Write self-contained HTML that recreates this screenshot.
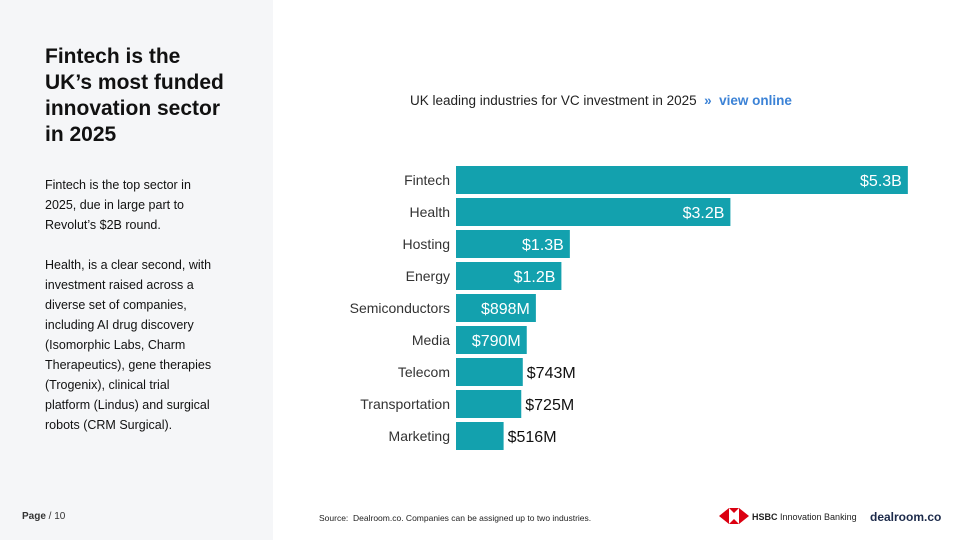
<!DOCTYPE html>
<html><head><meta charset="utf-8"><style>
body{margin:0;width:960px;height:540px;position:relative;background:#fff;font-family:"Liberation Sans",sans-serif;overflow:hidden;color:#1a1a1a}
#side{position:absolute;left:0;top:0;width:273px;height:540px;background:#f5f6f8}
h1{position:absolute;left:45px;top:44px;margin:0;font-size:21px;line-height:26px;font-weight:bold;color:#111;width:195px}
#body{position:absolute;left:45px;top:175px;font-size:12.5px;line-height:20px;width:172px;color:#111}
#body p{margin:0 0 20px 0}
#page{position:absolute;left:22px;top:511px;font-size:10px;color:#333}
#src{position:absolute;left:319px;top:513px;font-size:8.5px;color:#222}
#ctitle{position:absolute;left:410px;top:93px;font-size:13.5px;color:#222}
#ctitle span{color:#3b82d6;font-weight:bold}
</style></head><body>
<div id="side"></div>
<h1>Fintech is the<br>UK’s most funded innovation sector in 2025</h1>
<div id="body"><p>Fintech is the top sector in 2025, due in large part to Revolut’s $2B round.</p><p>Health, is a clear second, with investment raised across a diverse set of companies, including AI drug discovery (Isomorphic Labs, Charm Therapeutics), gene therapies (Trogenix), clinical trial platform (Lindus) and surgical robots (CRM Surgical).</p></div>
<div id="page"><b>Page</b> / 10</div>
<div id="src">Source:&nbsp; Dealroom.co. Companies can be assigned up to two industries.</div>
<div id="ctitle">UK leading industries for VC investment in 2025 &nbsp;<span>» &nbsp;view online</span></div>
<svg width="960" height="540" style="position:absolute;left:0;top:0">
<g id="bars"></g>
<g>
<polygon points="719,516 729,508 729,524" fill="#db0011"/><polygon points="749,516 739,508 739,524" fill="#db0011"/>
<polygon points="729,508 739,508 734,513" fill="#db0011"/><polygon points="729,524 739,524 734,519" fill="#db0011"/>
<text x="752" y="520" font-size="9" font-family="Liberation Sans" fill="#222"><tspan font-weight="bold">HSBC</tspan> Innovation Banking</text></g>
<text x="870" y="521" font-size="12" font-weight="bold" fill="#1c2a4a" font-family="Liberation Sans">dealroom.co</text>
</svg>
<script>
const categories=["Fintech","Health","Hosting","Energy","Semiconductors","Media","Telecom","Transportation","Marketing"];
const values=[5.3,3.2,1.3,1.2,0.898,0.79,0.743,0.725,0.516];
const valueLabels=["$5.3B","$3.2B","$1.3B","$1.2B","$898M","$790M","$743M","$725M","$516M"];
const x0=456;
function xs(v){return 4+v*84.5;}
function ys(i){return 166+i*32;}
const g=document.getElementById('bars');const NS='http://www.w3.org/2000/svg';
categories.forEach((c,i)=>{
 const w=xs(values[i]),y=ys(i);
 const r=document.createElementNS(NS,'rect');
 r.setAttribute('x',x0);r.setAttribute('y',y);r.setAttribute('width',w);r.setAttribute('height',28);r.setAttribute('fill','#13a1ae');
 
 
 g.appendChild(r);
 const t=document.createElementNS(NS,'text');
 t.setAttribute('x',x0-6);t.setAttribute('y',y+19);t.setAttribute('text-anchor','end');t.setAttribute('font-size','14');t.setAttribute('fill','#333');t.setAttribute('font-family','Liberation Sans');
 t.textContent=c;
 
 
 g.appendChild(t);
 const v=document.createElementNS(NS,'text');
 const inside=w>70;
 v.setAttribute('x',inside?x0+w-6:x0+w+4);v.setAttribute('y',y+20);v.setAttribute('text-anchor',inside?'end':'start');
 v.setAttribute('font-size','16');v.setAttribute('fill',inside?'#fff':'#111');v.setAttribute('font-family','Liberation Sans');
 v.textContent=valueLabels[i];
 
 
 g.appendChild(v);
});
</script>
</body></html>
